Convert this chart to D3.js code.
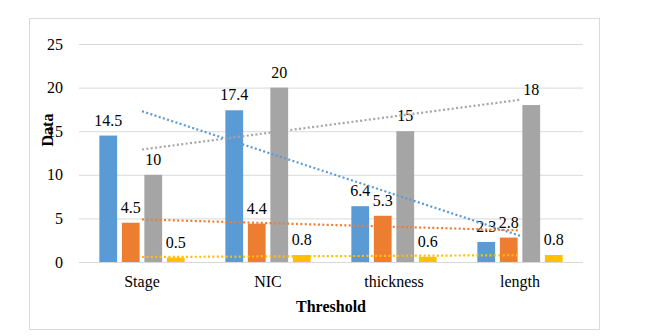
<!DOCTYPE html>
<html><head><meta charset="utf-8">
<script src="https://cdn.jsdelivr.net/npm/d3@7/dist/d3.min.js"></script>
<style>body{margin:0;background:#fff}svg{display:block}text{font-family:"Liberation Serif","Times New Roman",serif}</style>
</head><body><svg id="c" width="657" height="336"></svg>
<script>
const categories = ["Stage", "NIC", "thickness", "length"];
const seriesNames = ["S1", "S2", "S3", "S4"];
const s1 = [14.5, 17.4, 6.4, 2.3];
const s2 = [4.5, 4.4, 5.3, 2.8];
const s3 = [10, 20, 15, 18];
const s4 = [0.5, 0.8, 0.6, 0.8];
const yTicks = [0, 5, 10, 15, 20, 25];
const colors = ["#5B9BD5", "#ED7D31", "#A5A5A5", "#FFC000"];
const seriesVals = [s1, s2, s3, s4];

const svg = d3.select("#c");
const L = 79, R = 583, T = 44, B = 262;
svg.append("rect").attr("x", 29.5).attr("y", 18.5).attr("width", 570).attr("height", 311)
  .attr("fill", "none").attr("stroke", "#D9D9D9");

const y = d3.scaleLinear().domain([0, 25]).range([B, T]);
const x0 = d3.scaleBand().domain(categories).range([L, R]).padding(0);
const gw = x0.bandwidth() * 0.677;
const x1 = d3.scaleBand().domain(seriesNames).range([(x0.bandwidth() - gw) / 2, (x0.bandwidth() + gw) / 2]).paddingInner(0.21).paddingOuter(0);

// gridlines
svg.append("g").selectAll("line").data(yTicks).join("line")
  .attr("x1", L).attr("x2", R).attr("y1", d => y(d) + 0.5).attr("y2", d => y(d) + 0.5)
  .attr("stroke", "#D9D9D9").attr("stroke-width", 1);

// y labels
svg.append("g").selectAll("text").data(yTicks).join("text")
  .attr("x", 63).attr("y", d => y(d)).attr("dy", "0.35em").attr("text-anchor", "end")
  .attr("font-size", 16).attr("fill", "#000").text(d => d);

// bars
seriesVals.forEach((vals, si) => {
  const g = svg.append("g");
  g.selectAll("rect").data(vals).join("rect")
    .attr("x", (d, i) => x0(categories[i]) + x1(seriesNames[si]))
    .attr("y", d => y(d)).attr("width", x1.bandwidth()).attr("height", d => B - y(d))
    .attr("fill", colors[si]);
  g.selectAll("text").data(vals).join("text")
    .attr("x", (d, i) => x0(categories[i]) + x1(seriesNames[si]) + x1.bandwidth() / 2)
    .attr("y", d => y(d) - 10).attr("text-anchor", "middle").attr("font-size", 16).attr("fill", "#000")
    .text(d => d);
});

// linear trendlines
seriesVals.forEach((vals, si) => {
  const n = vals.length;
  const xs = vals.map((d, i) => i + 1);
  const mx = d3.mean(xs), my = d3.mean(vals);
  const slope = d3.sum(xs.map((xv, i) => (xv - mx) * (vals[i] - my))) / d3.sum(xs.map(xv => (xv - mx) ** 2));
  const icpt = my - slope * mx;
  const cx = i => x0(categories[i]) + x0.bandwidth() / 2;
  svg.append("line")
    .attr("x1", cx(0)).attr("y1", y(icpt + slope * 1))
    .attr("x2", cx(n - 1)).attr("y2", y(icpt + slope * n))
    .attr("stroke", colors[si]).attr("stroke-width", 2.2).attr("stroke-dasharray", "2,2.4");
});

// category labels
svg.append("g").selectAll("text").data(categories).join("text")
  .attr("x", d => x0(d) + x0.bandwidth() / 2).attr("y", 287).attr("text-anchor", "middle")
  .attr("font-size", 16).attr("fill", "#000").text(d => d);

svg.append("text").attr("x", (L + R) / 2).attr("y", 312).attr("text-anchor", "middle")
  .attr("font-size", 16).attr("font-weight", "bold").text("Threshold");
svg.append("text").attr("transform", "translate(53,130) rotate(-90)").attr("text-anchor", "middle")
  .attr("font-size", 16).attr("font-weight", "bold").text("Data");
</script></body></html>
